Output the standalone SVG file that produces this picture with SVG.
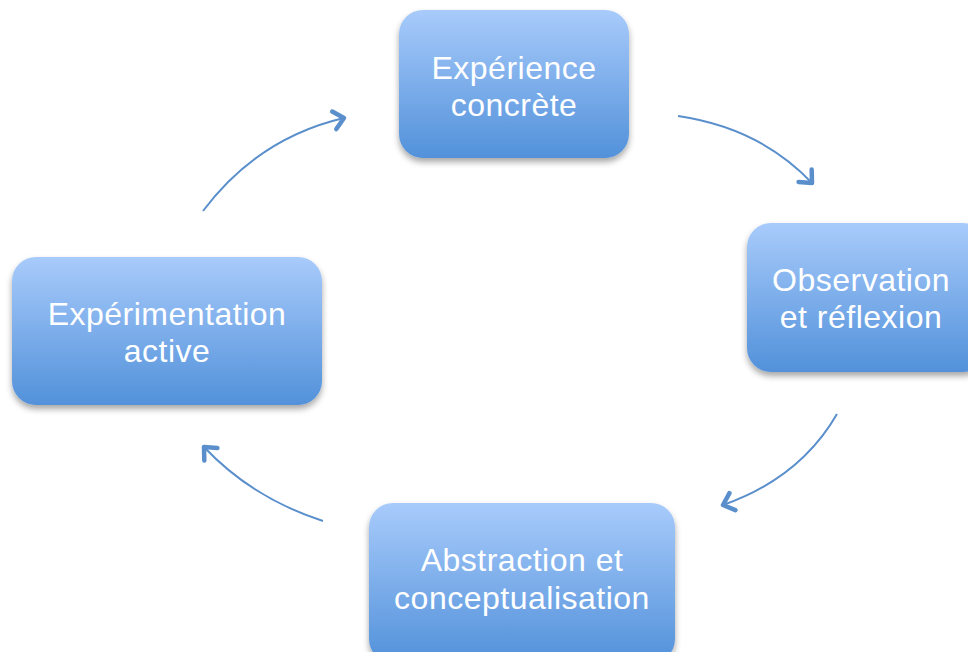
<svg xmlns="http://www.w3.org/2000/svg" width="968" height="652" viewBox="0 0 968 652">
<defs>
<linearGradient id="g" x1="0" y1="0" x2="0" y2="1">
<stop offset="0" stop-color="#a8cbfb"/>
<stop offset="1" stop-color="#5291da"/>
</linearGradient>
<filter id="sh" x="-10%" y="-10%" width="120%" height="130%">
<feDropShadow dx="0" dy="4" stdDeviation="3" flood-color="#000" flood-opacity="0.35"/>
</filter>
<marker id="ah" markerUnits="userSpaceOnUse" markerWidth="30" markerHeight="30" refX="15" refY="15" orient="auto" overflow="visible">
<path d="M5,6 L15,15 L5,24" fill="none" stroke="#5a8fcc" stroke-width="4.5" stroke-linecap="round" stroke-linejoin="round"/>
</marker>
</defs>
<style>
.box{fill:url(#g);filter:url(#sh)}
.t{font-family:"Liberation Sans",Arial,sans-serif;font-size:32px;letter-spacing:0.5px;fill:#fff;text-anchor:middle}
.c{fill:none;stroke:#5a8fcc;stroke-width:2;marker-end:url(#ah)}
</style>
<rect width="968" height="652" fill="#fff"/>
<g id="connectors">
<path class="c" d="M678,116 Q760,128 812,183"/>
<path class="c" d="M837,414 Q800,478 723,505"/>
<path class="c" d="M323,521 Q252,498 204,447"/>
<path class="c" d="M203,211 Q258,138 344,118"/>
</g>
<g id="n1">
<rect class="box" x="399" y="10" width="230" height="148" rx="24"/>
<text class="t" x="514" y="79">Expérience</text>
<text class="t" x="514" y="116">concrète</text>
</g>
<g id="n2">
<rect class="box" x="747" y="223" width="240" height="149" rx="24"/>
<text class="t" x="861" y="291">Observation</text>
<text class="t" x="861" y="328">et réflexion</text>
</g>
<g id="n3">
<rect class="box" x="369" y="503" width="306" height="160" rx="24"/>
<text class="t" x="522" y="571">Abstraction et</text>
<text class="t" x="522" y="609">conceptualisation</text>
</g>
<g id="n4">
<rect class="box" x="12" y="257" width="310" height="148" rx="24"/>
<text class="t" x="167" y="325">Expérimentation</text>
<text class="t" x="167" y="362">active</text>
</g>
</svg>
